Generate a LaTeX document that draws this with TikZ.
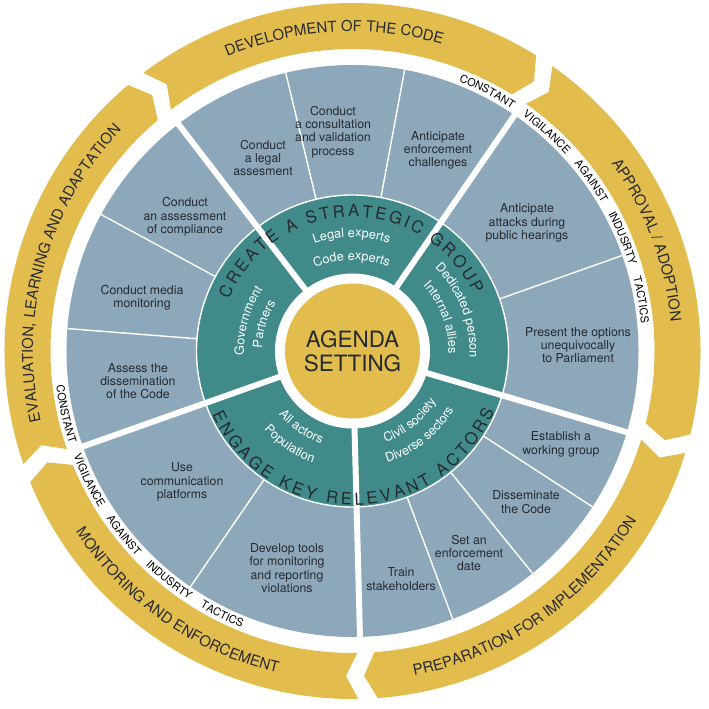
\documentclass[tikz,border=0pt]{standalone}
\usepackage{fontspec}
\setmainfont{TeX Gyre Heros}
\usetikzlibrary{decorations.text}

\definecolor{ygold}{HTML}{E2BD4E}
\definecolor{tealring}{HTML}{408B8A}
\definecolor{greyblue}{HTML}{8EA8BB}
\definecolor{inkdark}{HTML}{262B2F}

\newcommand\bandfont{\fontsize{8.5}{10}\selectfont}
\newcommand\vigfont{\fontsize{6.2}{7}\selectfont}
\newcommand\ringfont{\fontsize{9.5}{11}\selectfont}
\newcommand\tealfont{\fontsize{7.2}{8}\selectfont}

\begin{document}
\begin{tikzpicture}[x=0.02cm, y=0.02cm,
    cell/.style={align=center, inner sep=0pt, text=inkdark, font=\fontsize{7}{7.6}\selectfont},
    sepline/.style={white, line width=3.4pt},
    cellline/.style={white, line width=0.8pt},
    curved/.style={decorate, decoration={text along path, text align=center, text color=#1}},
    curved/.default=inkdark,
    spread/.style={decorate, decoration={text along path, text align=fit to path, text color=inkdark}},
    spaced/.style={decorate, decoration={text along path, text align={fit to path stretching spaces}, text color=black}}]
    \useasboundingbox (-352.5,-358) rectangle (356.5,351);

    % outer cycle of five arrows
    \foreach \a in {127.5,55.5,-16.5,-88.5,-160.5}{
        \pgfmathsetmacro\tailc{\a-0.55}
        \pgfmathsetmacro\tailn{\a-2.65}
        \pgfmathsetmacro\headc{\a-72+2.65}
        \pgfmathsetmacro\headt{\a-72+0.55}
        \fill[ygold] (\tailc:348) arc[start angle=\tailc, end angle=\headc, radius=348] -- (\headt:325)
            -- (\headc:302) arc[start angle=\headc, end angle=\tailc, radius=302] -- (\tailn:325) -- cycle;
    }

    % wheel
    \fill[greyblue] (0,0) circle[radius=286];
    \fill[tealring] (0,0) circle[radius=156];
    \draw[cellline] (0,0) circle[radius=156];
    \foreach \t in {103.5,79.5,19.5,-33,-51,-69.5,-124.5,175.5,151.5}
        \draw[cellline] (\t:156) -- (\t:286);
    \foreach \t in {127.5,55.5,-16.5,-88.5,-160.5}
        \draw[sepline] (\t:70) -- (\t:287);
    \fill[white] (0,0) circle[radius=77.5];
    \node[circle, fill=ygold, minimum size=2.7cm, inner sep=0pt, align=center, text=inkdark,
        font=\fontsize{12.8}{13.6}\selectfont] (agenda) at (0,0) {AGENDA\\SETTING};

    % cells
    \node[cell] (legal) at (-89.5,193) {Conduct\\a legal\\assesment};
    \node[cell] (consult) at (-19.5,219) {Conduct\\a consultation\\and validation\\process};
    \node[cell] (challenges) at (85.5,200.5) {Anticipate\\enforcement\\challenges};
    \node[cell] (attacks) at (174.5,128) {Anticipate\\attacks during\\public hearings};
    \node[cell] (options) at (225.5,6) {Present the options\\unequivocally\\to Parliament};
    \node[cell] (working) at (208.5,-93.5) {Establish a\\working group};
    \node[cell] (dissem) at (173.5,-151) {Disseminate\\the Code};
    \node[cell] (date) at (116.5,-202) {Set an\\enforcement\\date};
    \node[cell] (train) at (48.5,-228) {Train\\stakeholders};
    \node[cell] (tools) at (-65.5,-217) {Develop tools\\for monitoring\\and reporting\\violations};
    \node[cell] (platforms) at (-170.5,-131) {Use\\communication\\platforms};
    \node[cell] (assess) at (-214.5,-30) {Assess the\\dissemination\\of the Code};
    \node[cell] (media) at (-210.5,53.5) {Conduct media\\monitoring};
    \node[cell] (compliance) at (-167.5,134) {Conduct\\an assessment\\of compliance};

    % teal ring
    \path[curved=white, decoration={text={|\tealfont|Legal experts}}] (130.5:114) arc[start angle=130.5, end angle=50.5, radius=114];
    \path[curved=white, decoration={text={|\tealfont|Code experts}}] (130.5:91) arc[start angle=130.5, end angle=50.5, radius=91];
    \path[curved=white, decoration={text={|\tealfont|Dedicated person}}] (61:117) arc[start angle=61, end angle=-19, radius=117];
    \path[curved=white, decoration={text={|\tealfont|Internal allies}}] (60.5:96) arc[start angle=60.5, end angle=-19.5, radius=96];
    \path[curved=white, decoration={text={|\tealfont|Civil society}}] (-90.5:97.5) arc[start angle=-90.5, end angle=-10.5, radius=97.5];
    \path[curved=white, decoration={text={|\tealfont|Diverse sectors}}] (-91.5:117) arc[start angle=-91.5, end angle=-11.5, radius=117];
    \path[curved=white, decoration={text={|\tealfont|All actors}}] (-164:97.5) arc[start angle=-164, end angle=-84, radius=97.5];
    \path[curved=white, decoration={text={|\tealfont|Population}}] (-164:118.5) arc[start angle=-164, end angle=-84, radius=118.5];
    \path[curved=white, decoration={text={|\tealfont|Government}}] (204:108.5) arc[start angle=204, end angle=124, radius=108.5];
    \path[curved=white, decoration={text={|\tealfont|Partners}}] (203:90.5) arc[start angle=203, end angle=123, radius=90.5];
    \path[spread, decoration={text={|\ringfont|CREATE A STRATEGIC GROUP}}] (157.2:134) arc[start angle=157.2, end angle=25, radius=134];
    \path[spread, decoration={text={|\ringfont|ENGAGE KEY RELEVANT ACTORS}}] (204.4:154) arc[start angle=204.4, end angle=336.9, radius=154];

    % outer band
    \path[curved, decoration={text={|\bandfont|DEVELOPMENT OF THE CODE}}] (133.4:319.5) arc[start angle=133.4, end angle=53.4, radius=319.5];
    \path[curved, decoration={text={|\bandfont|APPROVAL / ADOPTION}}] (60.6:319.5) arc[start angle=60.6, end angle=-19.4, radius=319.5];
    \path[curved, decoration={text={|\bandfont|PREPARATION FOR IMPLEMENTATION}}] (-95:330.5) arc[start angle=-95, end angle=-15, radius=330.5];
    \path[curved, decoration={text={|\bandfont|MONITORING AND ENFORCEMENT}}] (195:330.5) arc[start angle=195, end angle=275, radius=330.5];
    \path[curved, decoration={text={|\bandfont|EVALUATION, LEARNING AND ADAPTATION}}] (204.5:319.5) arc[start angle=204.5, end angle=124.5, radius=319.5];

    % constant vigilance
    \path[spaced, decoration={text={|\vigfont|CONSTANT VIGILANCE AGAINST INDUSRTY TACTICS}}] (68.5:290) arc[start angle=68.5, end angle=5.5, radius=290];
    \path[spaced, decoration={text={|\vigfont|CONSTANT VIGILANCE AGAINST INDUSRTY TACTICS}}] (186.6:298) arc[start angle=186.6, end angle=248.1, radius=298];
\end{tikzpicture}
\end{document}
